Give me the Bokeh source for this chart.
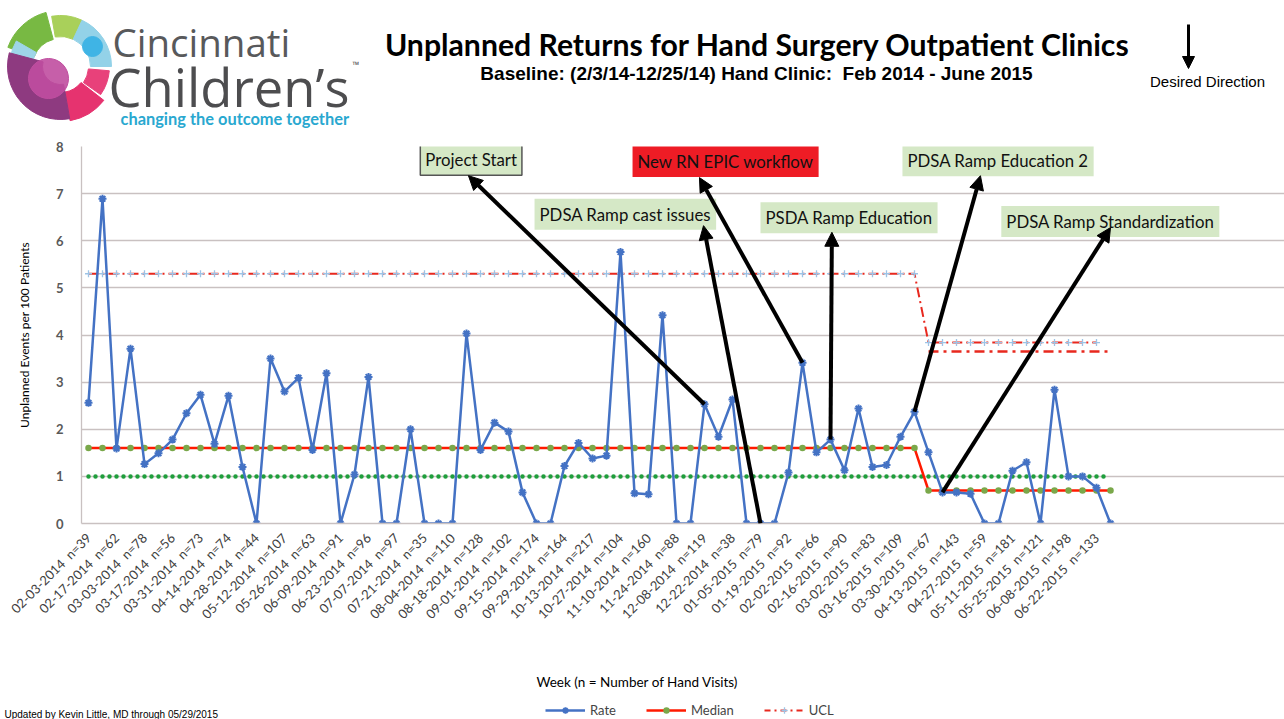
import math
from bokeh.plotting import figure
from bokeh.models import (Range1d, FixedTicker, Label, Arrow, NormalHead,
                          Legend, LegendItem)
from bokeh.embed import file_html
from bokeh.resources import INLINE
from bokeh.core.properties import value

# ---------------- data ----------------
rate = [2.56, 6.89, 1.59, 3.71, 1.26, 1.49, 1.78, 2.34, 2.73, 1.69,
        2.71, 1.20, 0.00, 3.50, 2.80, 3.09, 1.56, 3.19, 0.00, 1.04,
        3.11, 0.00, 0.00, 2.00, 0.00, 0.00, 0.00, 4.03, 1.56, 2.14,
        1.95, 0.66, 0.00, 0.00, 1.22, 1.71, 1.38, 1.44, 5.76, 0.64,
        0.62, 4.42, 0.00, 0.00, 2.53, 1.84, 2.63, 0.00, 0.00, 0.00,
        1.08, 3.41, 1.51, 1.78, 1.13, 2.44, 1.20, 1.24, 1.84, 2.37,
        1.51, 0.66, 0.66, 0.63, 0.00, 0.00, 1.12, 1.30, 0.00, 2.84,
        1.00, 1.00, 0.76, 0.00]
week = list(range(len(rate)))

median_levels = [1.6, 0.7]
median_weeks = [60, 14]
ucl_levels = [5.3, 3.84]
ucl_weeks = [60, 13]
ucl2_level = 3.65
ucl2_first_week = 60
goal_level = 1.0

tick_labels = ["02-03-2014  n=39", "02-17-2014  n=62", "03-03-2014  n=78", "03-17-2014  n=56",
               "03-31-2014  n=73", "04-14-2014  n=74", "04-28-2014  n=44", "05-12-2014  n=107",
               "05-26-2014  n=63", "06-09-2014  n=91", "06-23-2014  n=96", "07-07-2014  n=97",
               "07-21-2014  n=35", "08-04-2014  n=110", "08-18-2014  n=128", "09-01-2014  n=102",
               "09-15-2014  n=174", "09-29-2014  n=164", "10-13-2014  n=217", "10-27-2014  n=104",
               "11-10-2014  n=160", "11-24-2014  n=88", "12-08-2014  n=119", "12-22-2014  n=38",
               "01-05-2015  n=79", "01-19-2015  n=92", "02-02-2015  n=66", "02-16-2015  n=90",
               "03-02-2015  n=83", "03-16-2015  n=109", "03-30-2015  n=67", "04-13-2015  n=143",
               "04-27-2015  n=59", "05-11-2015  n=181", "05-25-2015  n=121", "06-08-2015  n=198",
               "06-22-2015  n=133"]
tick_pos = week[0::2][:len(tick_labels)]

ann_text = ["Project Start", "PDSA Ramp cast issues", "New RN EPIC workflow",
            "PSDA Ramp Education", "PDSA Ramp Education 2", "PDSA Ramp Standardization"]
ann_x = [23.7, 31.86, 38.86, 48.0, 58.14, 65.2]
ann_y = [7.72, 6.56, 7.68, 6.49, 7.70, 6.41]
ann_fill = ["#d5e8c6", "#d5e8c6", "#ee1c25", "#d5e8c6", "#d5e8c6", "#d5e8c6"]
ann_border = ["#555555", None, None, None, None, None]
arrow_from_week = [44, 48, 51, 53, 59, 61]
arrow_to_x = [27.14, 43.93, 43.64, 53.1, 63.71, 73.0]
arrow_to_y = [7.38, 6.32, 7.34, 6.18, 7.38, 6.28]

legend_labels = ["Rate", "Median", "UCL"]

# derived series
median = []
for lv, n in zip(median_levels, median_weeks):
    median += [lv] * n
ucl = []
for lv, n in zip(ucl_levels, ucl_weeks):
    ucl += [lv] * n
ucl += [float("nan")] * (len(week) - len(ucl))
ucl2 = [float("nan") if w < ucl2_first_week else ucl2_level for w in week]
goal = [goal_level for _ in week]

W = 1284
FONT = "Lato"
RATE_C, MED_C, MED_PT, UCL_C, UCL_PT = "#4472c4", "#ff1a00", "#7aa84a", "#e8281e", "#9dc3e6"

def Y(py):
    return 719 - py

def bare(fig):
    fig.grid.visible = False
    fig.outline_line_color = None

# ---------------- header (page y 0..138) ----------------
hdr = figure(width=W, height=138, x_range=Range1d(0, W), y_range=Range1d(719 - 138, 719),
             toolbar_location=None, output_backend="svg", min_border=0,
             x_axis_location=None, y_axis_location=None)
bare(hdr)

cx, cy = 60, Y(66)
logo_start = [105, 65, 0, -35, -80, 150, 165]
logo_end = [160, 100, 65, -5, -38, 170, 280]
logo_in = [28, 30, 30, 28, 26, 28, 18]
logo_out = [56, 51, 51, 49, 55, 51, 53]
logo_col = ["#78b943", "#a9d05a", "#93d2e8", "#e8417a", "#e6336f", "#9ed5e8", "#8e3a80"]
hdr.annular_wedge(x=[cx] * len(logo_col), y=[cy] * len(logo_col), inner_radius=logo_in,
                  outer_radius=logo_out, start_angle=logo_start, end_angle=logo_end,
                  start_angle_units="deg", end_angle_units="deg", color=logo_col)
hdr.circle(x=[48], y=[Y(78)], radius=20, color="#c04ea0", fill_alpha=0.9)
hdr.circle(x=[92], y=[Y(46)], radius=10, color="#3fb4e5")

hdr.text(x=[112], y=[Y(41)], text=["Cincinnati"], text_font=value("Open Sans"),
         text_font_size="38.5px", text_color="#58595b", text_baseline="alphabetic")
hdr.text(x=[108], y=[Y(86)], text=["Children\u2019s"], text_font=value("Open Sans"),
         text_font_size="52.5px", text_color="#4d4d4f", text_baseline="alphabetic")
hdr.text(x=[352], y=[Y(70)], text=["\u2122"], text_font=value("Open Sans"),
         text_font_size="9px", text_color="#4d4d4f")
hdr.text(x=[120], y=[Y(118)], text=["changing the outcome together"], text_font=value(FONT),
         text_font_style="bold", text_font_size="16.4px", text_color="#29a8d0",
         text_baseline="middle")

hdr.text(x=[757], y=[Y(43)], text=["Unplanned Returns for Hand Surgery Outpatient Clinics"],
         text_font=value(FONT), text_font_style="bold", text_font_size="30.2px",
         text_color="#000000", text_align="center", text_baseline="middle")
hdr.text(x=[756], y=[Y(73)],
         text=["Baseline: (2/3/14-12/25/14) Hand Clinic: \u00a0Feb 2014 - June 2015"],
         text_font=value("Liberation Sans"), text_font_style="bold", text_font_size="19px",
         text_color="#000000", text_align="center", text_baseline="middle")
hdr.text(x=[1207], y=[Y(81)], text=["Desired Direction"], text_font=value("Liberation Sans"),
         text_font_size="15px", text_color="#000000", text_align="center",
         text_baseline="middle")
hdr.add_layout(Arrow(x_start=1188, y_start=Y(24), x_end=1188, y_end=Y(68), line_width=3,
                     line_color="black",
                     end=NormalHead(size=12, fill_color="black", line_color="black")))

# ---------------- main chart (page y 138..645) ----------------
p = figure(width=W, height=507, x_range=Range1d(-0.5, -0.5 + (W - 81) / 14.0),
           y_range=Range1d(0, 8), toolbar_location=None, output_backend="svg",
           min_border_left=81, min_border_right=0, min_border_top=8, min_border_bottom=122)
p.outline_line_color = None
p.xgrid.visible = False
p.ygrid.ticker = FixedTicker(ticks=list(range(9)))
p.ygrid.grid_line_color = "#c9c1c1"
p.ygrid.grid_line_width = 1.3

p.yaxis.ticker = FixedTicker(ticks=list(range(9)))
p.yaxis.major_tick_line_color = None
p.yaxis.minor_tick_line_color = None
p.yaxis.axis_line_color = "#c9c1c1"
p.yaxis.axis_line_width = 1.3
p.yaxis.major_label_text_font = FONT
p.yaxis.major_label_text_font_style = "bold"
p.yaxis.major_label_text_font_size = "13px"
p.yaxis.major_label_text_color = "#595959"
p.yaxis.major_label_standoff = 12
p.yaxis.axis_label = "Unplanned Events per 100 Patients"
p.yaxis.axis_label_text_font = FONT
p.yaxis.axis_label_text_font_style = "normal"
p.yaxis.axis_label_text_font_size = "12px"
p.yaxis.axis_label_text_color = "#000000"
p.yaxis.axis_label_standoff = 21

p.xaxis.ticker = FixedTicker(ticks=tick_pos)
p.xaxis.major_label_overrides = {t: lab.replace("  ", " \u00a0")
                                 for t, lab in zip(tick_pos, tick_labels)}
p.xaxis.major_label_orientation = math.pi / 4
p.xaxis.major_tick_line_color = None
p.xaxis.minor_tick_line_color = None
p.xaxis.axis_line_color = "#c9c1c1"
p.xaxis.axis_line_width = 1.3
p.xaxis.major_label_text_font = FONT
p.xaxis.major_label_text_font_size = "13px"
p.xaxis.major_label_text_color = "#404040"
p.xaxis.major_label_standoff = 6

p.line(week, goal, line_color="#1f9e3c", line_width=4.5, line_dash="0 7", line_cap="round")
p.line(week, median, line_color=MED_C, line_width=2.5)
p.scatter(week, median, marker="circle", size=6.5, fill_color=MED_PT, line_color=None)
p.line(week, ucl, line_color=UCL_C, line_width=2, line_dash="10 4 2 4")
p.scatter(week, ucl, marker="cross", size=7, line_color=UCL_PT, line_width=1.3)
p.line(week, ucl2, line_color=UCL_C, line_width=2.5, line_dash="10 5 3 5")
p.line(week, rate, line_color=RATE_C, line_width=2.5)
p.scatter(week, rate, marker="asterisk", size=8, line_color=RATE_C, line_width=2)

for t, x, y, fc, bc in zip(ann_text, ann_x, ann_y, ann_fill, ann_border):
    p.add_layout(Label(x=x, y=y, text=t, text_font=FONT, text_font_size="16.8px",
                       text_color="#111111", text_align="left", text_baseline="middle",
                       background_fill_color=fc, background_fill_alpha=1.0,
                       border_line_color=bc, border_line_width=1.5, padding=5))
for wk, tx, ty in zip(arrow_from_week, arrow_to_x, arrow_to_y):
    p.add_layout(Arrow(x_start=wk, y_start=rate[wk], x_end=tx, y_end=ty, line_width=4,
                       line_color="black",
                       end=NormalHead(size=14, fill_color="black", line_color="black")))

# ---------------- footer (page y 645..719): axis title + legend ----------------
ft = figure(width=W, height=74, x_range=Range1d(0, W), y_range=Range1d(0, 74),
            toolbar_location=None, output_backend="svg", min_border=0,
            x_axis_location=None, y_axis_location=None)
bare(ft)
ft.text(x=[637], y=[Y(681)], text=["Week (n = Number of Hand Visits)"], text_font=value(FONT),
        text_font_size="13.5px", text_color="#000000", text_align="center",
        text_baseline="middle")
ft.text(x=[4], y=[Y(714)], text=["Updated by Kevin Little, MD through 05/29/2015"],
        text_font=value("Liberation Sans"), text_font_size="10px", text_color="#000000",
        text_baseline="middle")

# legend swatches: renderers styled like the chart series, kept outside the visible area
off_x = [-60, -50]
off_y = [-60, -60]
lg_rate = [ft.line(off_x, off_y, line_color=RATE_C, line_width=2.5),
           ft.scatter(off_x, off_y, marker="asterisk", size=8, line_color=RATE_C, line_width=2)]
lg_med = [ft.line(off_x, off_y, line_color=MED_C, line_width=2.5),
          ft.scatter(off_x, off_y, marker="circle", size=6.5, fill_color=MED_PT, line_color=None)]
lg_ucl = [ft.line(off_x, off_y, line_color=UCL_C, line_width=2, line_dash="6 4 2 4"),
          ft.scatter(off_x, off_y, marker="cross", size=7, line_color=UCL_PT, line_width=1.3)]
legend = Legend(items=[LegendItem(label=lab, renderers=r)
                       for lab, r in zip(legend_labels, [lg_rate, lg_med, lg_ucl])],
                orientation="horizontal", location=(545, 1),
                background_fill_alpha=0, border_line_color=None,
                label_text_font=FONT, label_text_font_size="13px",
                glyph_width=40, glyph_height=16, label_height=16, label_standoff=5,
                spacing=30, padding=0, margin=0)
ft.add_layout(legend)

open("out.html", "w").write(file_html([hdr, p, ft], INLINE))
